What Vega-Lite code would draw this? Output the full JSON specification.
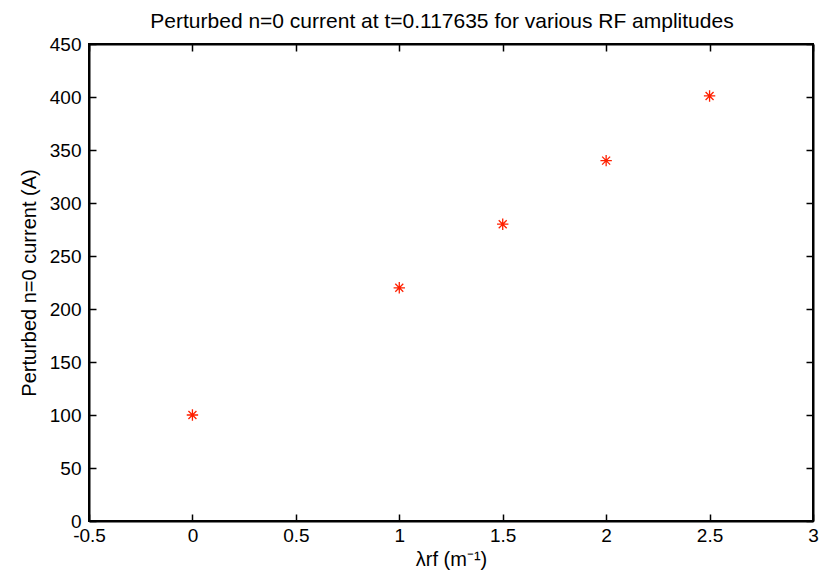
{
  "$schema": "https://vega.github.io/schema/vega-lite/v6.json",
  "autosize": {"type": "none"},
  "width": 724,
  "height": 477,
  "padding": {"left": 89, "top": 44, "right": 8, "bottom": 63},
  "background": "white",
  "title": {"text": "Perturbed n=0 current at t=0.117635 for various RF amplitudes", "font": "Liberation Sans", "fontSize": 21, "fontWeight": "normal", "color": "black", "offset": 3, "dx": -9},
  "config": {
    "view": {"stroke": "black", "strokeWidth": 2},
    "axis": {"labelFont": "Liberation Sans", "labelFontSize": 19, "labelColor": "black", "titleFont": "Liberation Sans", "titleFontSize": 20, "titleFontWeight": "normal", "titleColor": "black", "grid": false, "domainColor": "black", "domainWidth": 2, "tickColor": "black", "tickWidth": 1.5, "tickSize": -7, "labelFlush": false, "labelOverlap": false}
  },
  "data": {"values": [
    {"x": 0, "y": 100},
    {"x": 1, "y": 220},
    {"x": 1.5, "y": 280},
    {"x": 2, "y": 340},
    {"x": 2.5, "y": 401}
  ]},
  "layer": [
    {
      "mark": {"type": "point", "shape": "M-1,0L1,0M0,-1L0,1M-0.7,-0.7L0.7,0.7M-0.7,0.7L0.7,-0.7", "filled": false, "size": 130, "strokeWidth": 1.3, "color": "#ff2000", "opacity": 1},
      "encoding": {
        "x": {"field": "x", "type": "quantitative", "scale": {"domain": [-0.5, 3], "nice": false, "zero": false}, "axis": {"values": [-0.5, 0, 0.5, 1, 1.5, 2, 2.5, 3], "labelExpr": "'' + datum.value", "labelPadding": 12, "title": "λrf (m⁻¹)", "titlePadding": 4}},
        "y": {"field": "y", "type": "quantitative", "scale": {"domain": [0, 450], "nice": false}, "axis": {"values": [0, 50, 100, 150, 200, 250, 300, 350, 400, 450], "labelExpr": "'' + datum.value", "labelPadding": 15, "title": "Perturbed n=0 current (A)", "titlePadding": 10}}
      }
    },
    {
      "mark": {"type": "point", "opacity": 0},
      "encoding": {
        "x": {"field": "x", "type": "quantitative", "axis": {"orient": "top", "values": [-0.5, 0, 0.5, 1, 1.5, 2, 2.5, 3], "labels": false, "title": null}},
        "y": {"field": "y", "type": "quantitative", "axis": {"orient": "right", "values": [0, 50, 100, 150, 200, 250, 300, 350, 400, 450], "labels": false, "title": null}}
      }
    }
  ],
  "resolve": {"axis": {"x": "independent", "y": "independent"}}
}
